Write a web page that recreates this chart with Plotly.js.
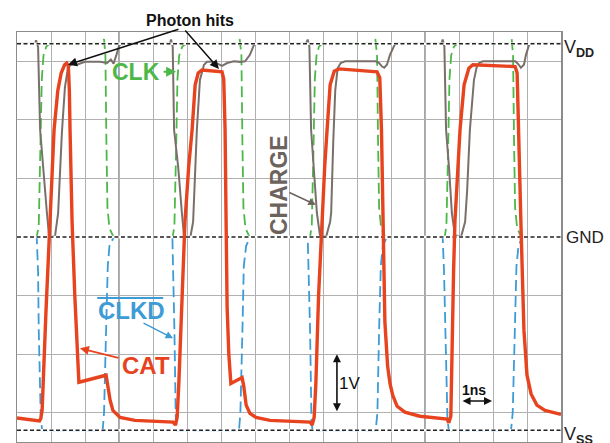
<!DOCTYPE html>
<html>
<head>
<meta charset="utf-8">
<script src="https://cdn.plot.ly/plotly-3.0.1.min.js"></script>
<style>html,body{margin:0;padding:0;background:#fff;}#chart{width:610px;height:443px;}</style>
</head>
<body>
<div id="chart"></div>
<script>
// ---- data (time in ns, voltage in V) ----
var levelNames = ["VDD", "GND", "VSS"];
var levels = [3.3, 0, -3.3];

var clkT = [0, 0.58, 0.64, 0.69, 0.73, 0.78, 0.86, 0.96, 2.52, 2.56, 2.60, 2.63, 2.66, 2.72, 2.84,
            4.58, 4.63, 4.68, 4.72, 4.77, 4.86, 4.98, 6.52, 6.55, 6.60, 6.63, 6.66, 6.72, 6.84,
            8.62, 8.67, 8.72, 8.76, 8.81, 8.88, 8.98, 10.50, 10.54, 10.59, 10.62, 10.65, 10.71, 10.83,
            12.58, 12.63, 12.68, 12.72, 12.77, 12.85, 12.95, 14.50, 14.55, 14.59, 14.62, 14.65, 14.71, 14.83, 16];
var clkV = [0, 0, 0.2, 1.5, 2.7, 3.1, 3.25, 3.3, 3.3, 3.38, 3.1, 1.6, 0.5, 0.15, 0,
            0, 0.2, 1.5, 2.7, 3.1, 3.25, 3.3, 3.3, 3.38, 3.1, 1.6, 0.5, 0.15, 0,
            0, 0.2, 1.5, 2.7, 3.1, 3.25, 3.3, 3.3, 3.38, 3.1, 1.6, 0.5, 0.15, 0,
            0, 0.2, 1.5, 2.7, 3.1, 3.25, 3.3, 3.3, 3.38, 3.1, 1.6, 0.5, 0.15, 0, 0];

var clkdT = [0, 0.58, 0.62, 0.64, 0.70, 0.74, 2.52, 2.56, 2.62, 2.67, 2.72, 2.85,
             4.57, 4.60, 4.63, 4.67, 4.70, 6.53, 6.57, 6.63, 6.67, 6.74, 6.86,
             8.55, 8.58, 8.62, 8.66, 8.69, 10.55, 10.60, 10.65, 10.70, 10.76, 10.88,
             12.52, 12.56, 12.60, 12.66, 12.70, 14.53, 14.58, 14.64, 14.69, 14.75, 14.87, 16];
var clkdV = [0, 0, -0.6, -1.6, -3.1, -3.3, -3.3, -3.0, -1.6, -0.5, -0.15, 0,
             0, -0.6, -1.6, -3.1, -3.3, -3.3, -3.0, -1.6, -0.5, -0.15, 0,
             0, -0.6, -1.6, -3.1, -3.3, -3.3, -3.0, -1.6, -0.5, -0.15, 0,
             0, -0.6, -1.6, -3.1, -3.3, -3.3, -3.0, -1.6, -0.5, -0.15, 0, 0];

var chargeT = [0, 0.53, 0.56, 0.62, 0.68, 0.76, 0.88, 0.94, 1.03, 1.12, 1.18, 1.21, 1.32, 1.41, 1.50, 1.62, 1.76, 2.00, 2.44, 2.65, 2.76, 2.84, 2.92, 3.00, 3.06,
               4.50, 4.53, 4.58, 4.62, 4.74, 4.85, 4.91, 5.00, 5.10, 5.18, 5.29, 5.38, 5.50, 5.59, 5.74, 5.90, 6.03, 6.18, 6.38, 6.56, 6.71, 6.85, 6.97, 7.06,
               8.50, 8.55, 8.60, 8.65, 8.74, 8.82, 8.91, 9.09, 9.21, 9.24, 9.30, 9.36, 9.43, 9.52, 9.65, 10.55, 10.65, 10.74, 10.80, 10.88, 10.97, 11.09, 11.12,
               12.48, 12.52, 12.57, 12.62, 12.71, 12.79, 12.88, 13.06, 13.18, 13.24, 13.32, 13.44, 13.52, 13.59, 13.70, 14.66, 14.76, 14.82, 14.91, 14.97, 15.06, 15.12, 16];
var chargeV = [3.3, 3.3, 3.36, 3.25, 1.83, 1.2, 0.41, 0.03, 0, 0.02, 0.26, 0.41, 1.78, 2.56, 2.89, 2.96, 2.94, 2.99, 2.99, 2.97, 3.03, 2.96, 3.1, 3.26, 3.3,
               3.3, 3.37, 3.25, 1.83, 1.2, 0.41, 0.03, 0, 0, 0.26, 1.83, 2.68, 2.94, 2.99, 2.99, 2.96, 2.92, 2.97, 3.0, 2.99, 3.0, 3.11, 3.28, 3.3,
               3.3, 3.37, 3.25, 1.83, 1.15, 0.41, 0.03, 0, 0.26, 0.41, 1.6, 2.5, 2.88, 2.97, 3.0, 3.0, 2.97, 2.91, 2.89, 2.94, 3.11, 3.28, 3.3,
               3.3, 3.37, 3.25, 1.83, 1.15, 0.41, 0.03, 0, 0.26, 0.8, 1.83, 2.68, 2.9, 2.97, 3.0, 3.0, 2.94, 2.89, 2.94, 3.11, 3.28, 3.3, 3.3];

var catT = [0, 0.30, 0.66, 0.70, 0.74, 0.85, 0.97, 1.09, 1.20, 1.30, 1.40, 1.46, 1.51, 1.54, 1.56, 1.62, 1.70, 1.77, 1.82,
            2.62, 2.66, 2.74, 2.82, 3.03, 3.47, 4.59, 4.66, 4.71, 4.76, 4.84, 4.94, 5.05, 5.15, 5.24, 5.33, 5.44,
            6.03, 6.08, 6.12, 6.15, 6.18, 6.23, 6.29, 6.62, 6.67, 6.74, 6.85, 7.03, 7.44, 8.62, 8.68,
            8.74, 8.79, 8.87, 8.97, 9.05, 9.12, 9.21, 9.33, 9.47, 10.59, 10.67, 10.72, 10.76, 10.82, 10.90, 10.97, 11.05, 11.18, 11.41, 11.85, 12.65, 12.70,
            12.76, 12.80, 12.84, 12.88, 12.96, 13.03, 13.15, 13.29, 13.41, 14.65, 14.71, 14.76, 14.82, 14.91, 15.00, 15.12, 15.29, 15.53, 16.00];
var catV = [-3.09, -3.11, -3.14, -3.10, -2.95, -1.3, 0.26, 1.83, 2.5, 2.8, 2.94, 2.97, 2.92, 2.5, 1.83, 0.26, -1.0, -1.8, -2.48,
            -2.36, -2.5, -2.79, -2.96, -3.08, -3.13, -3.16, -3.21, -3.08, -2.5, -1.2, 0.26, 1.2, 1.83, 2.6, 2.8, 2.85,
            2.82, 2.7, 1.83, 0.26, -1.2, -2.0, -2.5, -2.4, -2.55, -2.87, -3.01, -3.08, -3.13, -3.16, -3.21,
            -3.08, -2.5, -1.0, 0.26, 1.2, 1.83, 2.6, 2.83, 2.87, 2.82, 2.72, 1.83, 0.26, -1.45, -2.2, -2.5, -2.7, -2.89, -2.99, -3.06, -3.11, -3.17,
            -3.06, -1.59, -0.6, 0.26, 1.2, 1.83, 2.6, 2.88, 2.94, 2.91, 2.8, 1.83, 0.26, -1.59, -2.36, -2.68, -2.87, -2.96, -3.03];

var xRange = [0, 16];
var yRange = [-3.5, 3.5];

// ---- traces ----
var traces = [];
traces.push({x: clkT, y: clkV, mode: 'lines', line: {color: '#4cb848', width: 1.8, dash: '11px,5px'}, hoverinfo: 'skip'});
traces.push({x: clkdT, y: clkdV, mode: 'lines', line: {color: '#3d9bd6', width: 1.8, dash: '11px,5px'}, hoverinfo: 'skip'});
traces.push({x: chargeT, y: chargeV, mode: 'lines', line: {color: '#7a706b', width: 2}, hoverinfo: 'skip'});
levels.forEach(function (v) {
  traces.push({x: xRange, y: [v, v], mode: 'lines', line: {color: '#ffffff', width: 2.5}, hoverinfo: 'skip'});
  traces.push({x: xRange, y: [v, v], mode: 'lines', line: {color: '#222222', width: 1.6, dash: '4px,2.5px'}, hoverinfo: 'skip'});
});
traces.push({x: catT, y: catV, mode: 'lines', line: {color: '#e8431f', width: 3.4}, hoverinfo: 'skip'});

var F = 'Arial, "Liberation Sans", sans-serif';
var annotations = [
  {x: 5.09, y: 1.029, yref: 'paper', yanchor: 'middle', xanchor: 'center', text: '<b>Photon hits</b>', showarrow: false, font: {family: F, size: 16, color: '#111'}},
  {x: 1.5, y: 2.94, ax: 112, ay: -36, text: '', showarrow: true, arrowhead: 2, arrowsize: 1.2, arrowwidth: 1.5, arrowcolor: '#111'},
  {x: 5.94, y: 2.87, ax: -35, ay: -40, text: '', showarrow: true, arrowhead: 2, arrowsize: 1.2, arrowwidth: 1.5, arrowcolor: '#111'},
  {x: 3.5, y: 2.82, text: '<b>CLK</b>', showarrow: false, font: {family: F, size: 23, color: '#4cb848'}},
  {x: 4.68, y: 2.82, ax: -14, ay: 0, text: '', showarrow: true, arrowhead: 2, arrowsize: 1, arrowwidth: 2, arrowcolor: '#4cb848'},
  {x: 7.71, y: 0.89, text: '<b>CHARGE</b>', textangle: -90, showarrow: false, font: {family: F, size: 23, color: '#6d635d'}},
  {x: 8.79, y: 0.55, ax: -28, ay: -13, text: '', showarrow: true, arrowhead: 2, arrowsize: 1, arrowwidth: 1.5, arrowcolor: '#6d635d'},
  {x: 3.38, y: -1.26, text: '<b>CLKD</b>', showarrow: false, font: {family: F, size: 24, color: '#3d9bd6'}},
  {x: 4.59, y: -1.73, ax: -31, ay: -16, text: '', showarrow: true, arrowhead: 2, arrowsize: 1, arrowwidth: 1.5, arrowcolor: '#3d9bd6'},
  {x: 3.79, y: -2.19, text: '<b>CAT</b>', showarrow: false, font: {family: F, size: 24, color: '#e8431f'}},
  {x: 1.85, y: -1.9, ax: 40, ay: 10, text: '', showarrow: true, arrowhead: 2, arrowsize: 1, arrowwidth: 1.8, arrowcolor: '#e8431f'},
  {x: 9.41, y: -2, ax: 9.41, ay: -3, axref: 'x', ayref: 'y', text: '', showarrow: true, arrowside: 'end+start', arrowhead: 2, arrowsize: 1, arrowwidth: 1.6, arrowcolor: '#111'},
  {x: 9.79, y: -2.5, text: '1V', showarrow: false, font: {family: F, size: 17, color: '#111'}},
  {x: 13.97, y: -2.8, ax: 13.06, ay: -2.8, axref: 'x', ayref: 'y', text: '', showarrow: true, arrowside: 'end+start', arrowhead: 2, arrowsize: 1, arrowwidth: 1.6, arrowcolor: '#111'},
  {x: 13.44, y: -2.62, text: '<b>1ns</b>', showarrow: false, font: {family: F, size: 14, color: '#111'}},
  {x: 16, y: levels[0], xanchor: 'left', xshift: 1, yshift: -5, text: 'V<sub><b>DD</b></sub>', showarrow: false, font: {family: F, size: 18, color: '#222'}},
  {x: 16, y: levels[1], xanchor: 'left', xshift: 3, text: 'GND', showarrow: false, font: {family: F, size: 17, color: '#222'}},
  {x: 16, y: levels[2], xanchor: 'left', xshift: 1, yshift: -5, text: 'V<sub><b>SS</b></sub>', showarrow: false, font: {family: F, size: 18, color: '#222'}}
];

var shapes = [
  {type: 'line', xref: 'x', yref: 'y', x0: 2.36, x1: 4.3, y0: -1.04, y1: -1.04, line: {color: '#3d9bd6', width: 2}},
  {type: 'line', xref: 'x', yref: 'paper', x0: 3, x1: 3, y0: 0, y1: 1, layer: 'below', line: {color: '#8a8a8a', width: 1.5}},
  {type: 'line', xref: 'x', yref: 'paper', x0: 12, x1: 12, y0: 0, y1: 1, layer: 'below', line: {color: '#8a8a8a', width: 1.5}}
];

var layout = {
  width: 610, height: 443,
  margin: {l: 17, r: 49, t: 32, b: 1, pad: 0},
  paper_bgcolor: '#fff', plot_bgcolor: '#fff',
  showlegend: false,
  xaxis: {range: xRange, dtick: 1, tick0: 0, showticklabels: false, ticks: '', showgrid: true, gridcolor: '#b0b0b0', gridwidth: 1,
          zeroline: false, showline: true, mirror: true, linecolor: '#8c8c8c', linewidth: 1.5, fixedrange: true},
  yaxis: {range: yRange, dtick: 1, tick0: 0, showticklabels: false, ticks: '', showgrid: true, gridcolor: '#b0b0b0', gridwidth: 1,
          zeroline: false, showline: true, mirror: true, linecolor: '#8c8c8c', linewidth: 1.5, fixedrange: true},
  annotations: annotations,
  shapes: shapes
};

Plotly.newPlot('chart', traces, layout, {displayModeBar: false, staticPlot: true});
</script>
</body>
</html>
